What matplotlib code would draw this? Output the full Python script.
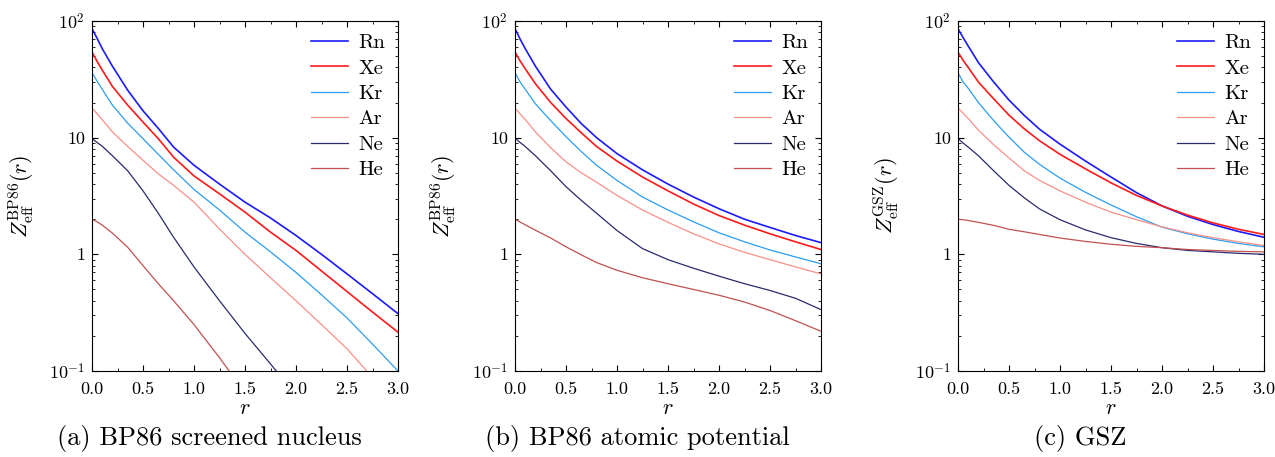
import numpy as np
import matplotlib
matplotlib.use("Agg")
import matplotlib.pyplot as plt
from matplotlib.ticker import FixedLocator, FixedFormatter, LogLocator, MultipleLocator, NullFormatter

plt.rcParams['font.family'] = 'serif'
plt.rcParams['font.serif'] = ['cmr10', 'DejaVu Serif']
plt.rcParams['mathtext.fontset'] = 'cm'
plt.rcParams['axes.formatter.use_mathtext'] = True

nan = np.nan

# radial grid the curves were read at
r = [0.0, 0.05, 0.1, 0.2, 0.35, 0.5, 0.65, 0.8, 1.0, 1.25, 1.5, 1.75, 2.0, 2.25, 2.5, 2.75, 3.0]

elements = ['Rn', 'Xe', 'Kr', 'Ar', 'Ne', 'He']
colors = ['#1a1aff', '#ff1a1a', '#2a9df4', '#f99088', '#2a2a6e', '#c05050']
widths = [1.2, 1.2, 0.9, 0.9, 0.9, 0.9]

# (a) BP86 screened nucleus
a_Rn = [86, 71, 58, 41, 25.5, 17, 12, 8.3, 5.8, 4.0, 2.8, 2.05, 1.45, 1.0, 0.68, 0.46, 0.31]
a_Xe = [54, 45, 38, 27.5, 19, 13.6, 9.8, 6.8, 4.7, 3.3, 2.3, 1.55, 1.08, 0.72, 0.48, 0.32, 0.215]
a_Kr = [36, 30.5, 26, 19, 13.3, 9.8, 7.2, 5.3, 3.6, 2.4, 1.55, 1.05, 0.7, 0.45, 0.285, 0.17, 0.10]
a_Ar = [18, 16, 14.3, 11.2, 8.4, 6.4, 4.9, 3.9, 2.8, 1.65, 1.0, 0.63, 0.4, 0.25, 0.155, 0.088, nan]
a_Ne = [9.8, 9.1, 8.45, 7.0, 5.2, 3.5, 2.25, 1.4, 0.78, 0.4, 0.21, 0.115, 0.062, nan, nan, nan, nan]
a_He = [2.0, 1.9, 1.78, 1.52, 1.15, 0.8, 0.56, 0.4, 0.25, 0.13, 0.065, nan, nan, nan, nan, nan, nan]

# (b) BP86 atomic potential
b_Rn = [86, 70, 58, 41, 26, 18.3, 13.2, 10.0, 7.3, 5.3, 4.0, 3.1, 2.46, 2.0, 1.7, 1.45, 1.26]
b_Xe = [54, 45.5, 39, 29, 20, 14.6, 11.0, 8.4, 6.3, 4.6, 3.5, 2.7, 2.15, 1.78, 1.5, 1.28, 1.1]
b_Kr = [36, 30, 26, 19.5, 14, 10.2, 7.6, 5.8, 4.3, 3.1, 2.4, 1.9, 1.53, 1.28, 1.09, 0.95, 0.83]
b_Ar = [18, 16, 14.3, 11.2, 8.2, 6.2, 5.0, 4.15, 3.2, 2.4, 1.88, 1.5, 1.23, 1.04, 0.9, 0.78, 0.68]
b_Ne = [9.9, 9.1, 8.4, 7.0, 5.2, 3.8, 2.9, 2.25, 1.6, 1.12, 0.9, 0.76, 0.65, 0.56, 0.49, 0.42, 0.336]
b_He = [2.0, 1.89, 1.79, 1.61, 1.38, 1.16, 0.99, 0.85, 0.73, 0.63, 0.56, 0.5, 0.446, 0.39, 0.33, 0.27, 0.219]

# (c) GSZ
c_Rn = [86, 72, 61, 44, 30, 21, 15.5, 11.8, 8.8, 6.3, 4.6, 3.38, 2.6, 2.12, 1.8, 1.57, 1.4]
c_Xe = [54, 46, 40, 30, 21.5, 15.6, 11.9, 9.4, 7.2, 5.4, 4.1, 3.2, 2.6, 2.17, 1.86, 1.64, 1.48]
c_Kr = [36, 30, 26.5, 20, 14, 10.1, 7.5, 5.9, 4.5, 3.4, 2.65, 2.1, 1.71, 1.5, 1.35, 1.24, 1.16]
c_Ar = [18, 16.2, 14.6, 11.6, 8.7, 6.7, 5.2, 4.3, 3.5, 2.8, 2.3, 1.98, 1.72, 1.53, 1.39, 1.28, 1.19]
c_Ne = [9.8, 9.0, 8.3, 7.0, 5.2, 3.9, 3.05, 2.45, 1.98, 1.62, 1.39, 1.24, 1.14, 1.08, 1.05, 1.02, 1.0]
c_He = [2.0, 1.98, 1.95, 1.88, 1.77, 1.64, 1.56, 1.48, 1.38, 1.29, 1.22, 1.17, 1.14, 1.1, 1.08, 1.06, 1.05]

panels = [
    ([a_Rn, a_Xe, a_Kr, a_Ar, a_Ne, a_He], r'$Z_{\rm eff}^{\rm BP86}(r)$', '(a) BP86 screened nucleus'),
    ([b_Rn, b_Xe, b_Kr, b_Ar, b_Ne, b_He], r'$Z_{\rm eff}^{\rm BP86}(r)$', '(b) BP86 atomic potential'),
    ([c_Rn, c_Xe, c_Kr, c_Ar, c_Ne, c_He], r'$Z_{\rm eff}^{\rm GSZ}(r)$', '(c) GSZ'),
]

fig = plt.figure(figsize=(12.75, 4.57), dpi=100)
W, H = 1275, 457
lefts = [92, 515, 958]
ylab_x = [37, 459, 902]
cap_x = [209, 637, 1080]

for i, (series, ylabel, caption) in enumerate(panels):
    ax = fig.add_axes([lefts[i] / W, 1 - 371 / H, 306 / W, 350 / H])
    for name, vals, c, lw in zip(elements, series, colors, widths):
        ax.plot(r, vals, color=c, lw=lw, label=name)
    ax.set_yscale('log')
    ax.set_xlim(0, 3)
    ax.set_ylim(0.1, 100)
    ax.yaxis.set_major_locator(FixedLocator([0.1, 1, 10, 100]))
    ax.yaxis.set_major_formatter(FixedFormatter([r'$10^{-1}$', '1', '10', r'$10^{2}$']))
    ax.yaxis.set_minor_locator(LogLocator(base=10, subs=np.arange(2, 10)))
    ax.yaxis.set_minor_formatter(NullFormatter())
    ax.xaxis.set_major_locator(MultipleLocator(0.5))
    ax.xaxis.set_minor_locator(MultipleLocator(0.25))
    ax.xaxis.set_major_formatter(plt.FuncFormatter(lambda v, p: '%.1f' % v))
    ax.tick_params(which='both', direction='in', top=True, right=True, labelsize=13)
    ax.tick_params(axis='x', which='major', pad=8)
    ax.tick_params(axis='y', which='major', pad=5)
    ax.tick_params(which='major', length=4, width=0.8)
    ax.tick_params(which='minor', length=2.2, width=0.6)
    ax.set_xlabel(r'$r$', fontsize=16, labelpad=1)
    ax.set_ylabel(ylabel, fontsize=16)
    ax.yaxis.set_label_coords((ylab_x[i] - lefts[i]) / 306, 0.5)
    ax.legend(loc='upper right', frameon=False, fontsize=15, handlelength=1.8,
              labelspacing=0.33, borderaxespad=0.3, borderpad=0.3, handletextpad=0.5)
    fig.text(cap_x[i] / W, 1 - 438 / H, caption, ha='center', va='center', fontsize=19)

fig.savefig('out.png', dpi=100)
